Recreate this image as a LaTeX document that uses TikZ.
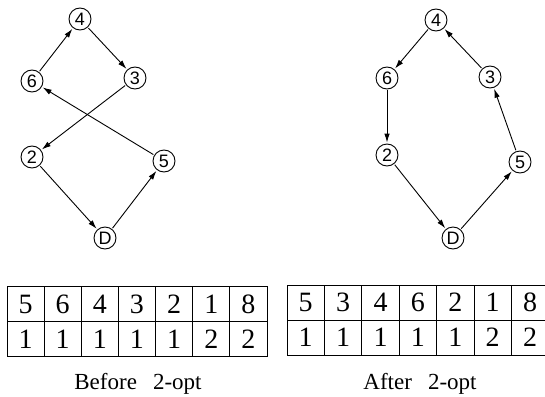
\documentclass[tikz,border=0pt]{standalone}
\usepackage{fontspec}
\setmainfont{Liberation Serif}
\newfontfamily\cityfont{Liberation Sans}
\usetikzlibrary{arrows.meta,positioning}

\tikzset{
  city/.style={circle, draw, line width=0.9pt, minimum size=22pt, inner sep=0pt,
    font=\cityfont\fontsize{18}{18}\selectfont},
  tour/.style={-{Latex[length=9pt,width=5.5pt]}, line width=0.9pt, shorten >=1pt, shorten <=1pt},
  cell/.style={draw, line width=0.9pt, minimum width=37.2pt, minimum height=35pt, inner sep=0pt,
    font=\fontsize{28}{28}\selectfont},
  caption/.style={anchor=base, font=\fontsize{23}{23}\selectfont}
}

\begin{document}
\begin{tikzpicture}[x=1pt,y=-1pt]
      \useasboundingbox (0,0) rectangle (545,396);

      % before 2-opt
      \node[city] (b4) at (80,19) {4};
      \node[city] (b6) at (32,81) {6};
      \node[city] (b3) at (135,78) {3};
      \node[city] (b2) at (32,157) {2};
      \node[city] (b5) at (164,161) {5};
      \node[city] (bD) at (105,238) {D};

      % after 2-opt
      \node[city] (a4) at (436,20) {4};
      \node[city] (a6) at (387,78) {6};
      \node[city] (a3) at (490,77) {3};
      \node[city] (a2) at (387,155) {2};
      \node[city] (a5) at (520,162) {5};
      \node[city] (aD) at (453,238) {D};

      % edges
      \draw[tour] (b6) -- (b4);
      \draw[tour] (b4) -- (b3);
      \draw[tour] (b3) -- (b2);
      \draw[tour] (b2) -- (bD);
      \draw[tour] (bD) -- (b5);
      \draw[tour] (b5) -- (b6);

      \draw[tour] (a4) -- (a6);
      \draw[tour] (a6) -- (a2);
      \draw[tour] (a2) -- (aD);
      \draw[tour] (aD) -- (a5);
      \draw[tour] (a5) -- (a3);
      \draw[tour] (a3) -- (a4);

      % tables
      \foreach \v [count=\i] in {5,6,4,3,2,1,8}
        \node[cell] (bt\i) at ({7+37.14*(\i-0.5)},304) {\v};
      \foreach \v [count=\i] in {1,1,1,1,1,2,2}
        \node[cell] (bb\i) at ({7+37.14*(\i-0.5)},339) {\v};
      \foreach \v [count=\i] in {5,3,4,6,2,1,8}
        \node[cell, minimum width=37.4pt] (at\i) at ({287+37.4*(\i-0.5)},302.5) {\v};
      \foreach \v [count=\i] in {1,1,1,1,1,2,2}
        \node[cell, minimum width=37.4pt] (ab\i) at ({287+37.4*(\i-0.5)},337.5) {\v};

      \node[caption] (before) at (138,389) {Before\hspace{0.45em} 2-opt};
      \node[caption] (after) at (420,389) {After\hspace{0.45em} 2-opt};
\end{tikzpicture}
\end{document}
